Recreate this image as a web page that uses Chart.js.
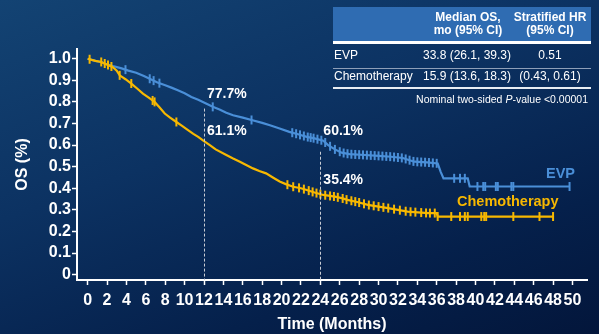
<!DOCTYPE html>
<html><head><meta charset="utf-8">
<script src="https://cdn.jsdelivr.net/npm/chart.js@4.4.1/dist/chart.umd.min.js"></script>
<style>
html,body{margin:0;padding:0;width:599px;height:334px;overflow:hidden;}
body{background:linear-gradient(160deg,#134373 0%,#0c3262 40%,#05204b 75%,#03163b 100%);font-family:"Liberation Sans",Arial,sans-serif;position:relative;color:#fff;}
#c{position:absolute;left:0;top:0;}
.ab{position:absolute;white-space:nowrap;}
.hd{font-weight:bold;font-size:12px;line-height:13.4px;text-align:center;}
.cell{font-size:12px;line-height:14px;}
</style></head>
<body>
<canvas id="c" width="599" height="334"></canvas>
<div class="ab" style="left:333px;top:7px;width:258px;height:34px;background:#2f6cb2;"></div>
<div class="ab" style="left:333px;top:41px;width:258px;height:3px;background:#fff;"></div>
<div class="ab" style="left:333px;top:68px;width:258px;height:1px;background:#8e9fb8;"></div>
<div class="ab" style="left:333px;top:87px;width:258px;height:2px;background:#e8edf3;"></div>
<div class="ab hd" style="left:418px;top:11px;width:100px;">Median OS,<br>mo (95% CI)</div>
<div class="ab hd" style="left:505px;top:11px;width:90px;">Stratified HR<br>(95% CI)</div>
<div class="ab cell" style="left:334px;top:48px;">EVP</div>
<div class="ab cell" style="left:417px;top:48px;width:100px;text-align:center;">33.8 (26.1, 39.3)</div>
<div class="ab cell" style="left:505px;top:48px;width:90px;text-align:center;">0.51</div>
<div class="ab cell" style="left:334px;top:69px;">Chemotherapy</div>
<div class="ab cell" style="left:417px;top:69px;width:100px;text-align:center;">15.9 (13.6, 18.3)</div>
<div class="ab cell" style="left:505px;top:69px;width:90px;text-align:center;">(0.43, 0.61)</div>
<div class="ab" style="right:11px;top:93px;font-size:10.5px;line-height:12px;">Nominal two-sided <i>P</i>-value &lt;0.00001</div>
<script>
// ---- data ----
const evpTime = [0,0.8,1.4,1.8,2.6,3.5,4.2,5.0,5.8,6.5,7.2,8.0,8.7,9.3,10.0,10.7,11.4,12.1,12.9,13.6,14.3,15.0,16.0,17.0,18.0,18.8,19.8,20.8,21.7,22.6,23.4,24.3,24.8,25.5,26.2,27.0,28.6,30.0,31.3,32.5,33.2,33.7,35.0,36.1,36.4,36.7,39.2,39.4,49.7];
const evpSurv = [1.0,0.99,0.985,0.977,0.966,0.955,0.945,0.935,0.92,0.905,0.89,0.877,0.865,0.854,0.84,0.823,0.81,0.795,0.777,0.765,0.75,0.738,0.727,0.715,0.703,0.692,0.677,0.661,0.65,0.638,0.631,0.62,0.60,0.58,0.565,0.558,0.554,0.55,0.546,0.54,0.53,0.523,0.52,0.515,0.477,0.446,0.446,0.408,0.408];
const chemoTime = [0,0.8,1.4,1.8,2.6,3.0,3.3,3.9,4.5,5.1,5.7,6.3,6.9,7.4,7.95,8.5,9.15,9.7,10.35,10.9,11.4,12.0,12.6,13.2,14.3,15.0,15.7,16.4,17.05,17.7,18.4,19.1,19.8,20.5,21.2,22.0,22.6,23.4,24.3,25.5,26.2,26.8,27.9,28.9,30.0,31.0,32.0,33.0,35.1,36.0,36.1,48.1];
const chemoSurv = [1.0,0.99,0.985,0.977,0.961,0.945,0.923,0.905,0.885,0.862,0.838,0.82,0.80,0.775,0.746,0.727,0.707,0.69,0.669,0.652,0.638,0.618,0.60,0.58,0.554,0.538,0.523,0.507,0.492,0.48,0.469,0.45,0.431,0.418,0.407,0.40,0.392,0.38,0.369,0.361,0.354,0.346,0.335,0.323,0.315,0.308,0.30,0.292,0.285,0.285,0.269,0.269];
const evpCensor = [3.9,6.4,6.8,7.4,12.9,16.9,21.1,21.5,21.9,22.3,22.7,23.0,23.3,23.7,24.1,24.5,25.0,25.5,26.0,26.4,26.8,27.2,27.6,28.0,28.4,28.8,29.2,29.6,30.0,30.4,30.8,31.2,31.6,32.0,32.4,32.8,33.2,33.6,34.0,34.4,34.8,35.2,35.6,36.0,37.8,38.4,38.9,40.2,40.8,41.0,42.1,42.3,43.7,43.9,49.7];
const chemoCensor = [0.2,1.4,1.76,2.1,2.45,3.3,4.5,6.7,6.9,9.15,20.6,21.2,21.8,22.3,22.8,23.2,23.6,24.0,24.5,25.0,25.4,25.8,26.3,26.7,27.2,27.6,28.0,28.5,29.0,29.5,30.0,30.5,31.0,31.6,32.2,32.8,33.3,33.8,34.4,34.9,35.3,35.8,36.1,37.5,38.4,38.9,39.2,40.6,40.9,41.1,43.9,46.6,48.0];
const xTickValues = [0,2,4,6,8,10,12,14,16,18,20,22,24,26,28,30,32,34,36,38,40,42,44,46,48,50];
const yTickValues = [0,0.1,0.2,0.3,0.4,0.5,0.6,0.7,0.8,0.9,1.0];
const yTickLabels = ['0','0.1','0.2','0.3','0.4','0.5','0.6','0.7','0.8','0.9','1.0'];
const landmarkMonths = [12,24];
const landmarkTop = [0.769,0.569];
const evpLandmarkLabels = ['77.7%','60.1%'];
const chemoLandmarkLabels = ['61.1%','35.4%'];
const seriesNames = ['EVP','Chemotherapy'];

// ---- helpers ----
const BLUE = '#4a8fd8', YELLOW = '#f7b800', FONT = '"Liberation Sans", Arial, sans-serif';
function pts(T,S){return T.map((t,i)=>({x:t,y:S[i]}));}
// place a censor mark on the drawn curve at time t
function onCurve(T,S,t){
  if(t<=T[0]) return S[0];
  for(let i=1;i<T.length;i++){
    if(t<=T[i]){const f=(t-T[i-1])/(T[i]-T[i-1]);return S[i-1]+f*(S[i]-S[i-1]);}
  }
  return S[S.length-1];
}
function censorPts(C,T,S){return C.map(t=>({x:t,y:onCurve(T,S,t)}));}

Chart.defaults.font.family = FONT;

const annot = {
  id:'annot',
  afterDatasetsDraw(chart){
    const {ctx, scales:{x,y}} = chart;
    ctx.save();
    ctx.strokeStyle = '#c8ccd4'; ctx.lineWidth = 1; ctx.setLineDash([3,2]);
    landmarkMonths.forEach((m,i)=>{
      const px = Math.round(x.getPixelForValue(m))+0.5;
      ctx.beginPath(); ctx.moveTo(px, y.getPixelForValue(landmarkTop[i])); ctx.lineTo(px, chart.chartArea.bottom); ctx.stroke();
    });
    ctx.setLineDash([]);
    ctx.fillStyle = '#fff'; ctx.font = 'bold 14px '+FONT; ctx.textBaseline='middle'; ctx.textAlign='left';
    const evpY = [94,131], chemoY = [131,180];
    landmarkMonths.forEach((m,i)=>{
      const px = x.getPixelForValue(m)+3;
      ctx.fillText(evpLandmarkLabels[i], px, evpY[i]);
      ctx.fillText(chemoLandmarkLabels[i], px, chemoY[i]);
    });
    ctx.font = 'bold 14.5px '+FONT;
    ctx.fillStyle = BLUE; ctx.textAlign='right';
    ctx.fillText(seriesNames[0], 575, 174);
    ctx.fillStyle = YELLOW; ctx.textAlign='left';
    ctx.fillText(seriesNames[1], 457, 202);
    ctx.restore();
  }
};

new Chart(document.getElementById('c'), {
  type:'line',
  data:{datasets:[
    {label:'EVP', data:pts(evpTime,evpSurv), borderColor:BLUE, borderWidth:2.2, pointRadius:0, fill:false, tension:0, order:3},
    {label:'EVP censored', data:censorPts(evpCensor,evpTime,evpSurv), showLine:false, pointStyle:'line', rotation:90, pointRadius:4.5, pointBorderWidth:2, borderColor:BLUE, pointBorderColor:BLUE, order:2},
    {label:'Chemotherapy', data:pts(chemoTime,chemoSurv), borderColor:YELLOW, borderWidth:2.2, pointRadius:0, fill:false, tension:0, order:1},
    {label:'Chemotherapy censored', data:censorPts(chemoCensor,chemoTime,chemoSurv), showLine:false, pointStyle:'line', rotation:90, pointRadius:4.5, pointBorderWidth:2, borderColor:YELLOW, pointBorderColor:YELLOW, order:0}
  ]},
  options:{
    responsive:false, animation:false, events:[],
    layout:{padding:{top:49,right:12,left:0,bottom:0}},
    plugins:{legend:{display:false},tooltip:{enabled:false}},
    scales:{
      x:{type:'linear', min:-1.1, max:51.5,
        afterBuildTicks:s=>{s.ticks = xTickValues.map(v=>({value:v}));},
        afterFit:s=>{s.height=54;},
        ticks:{color:'#fff', font:{size:16,weight:'bold'}, autoSkip:false, maxRotation:0, minRotation:0, padding:6, callback:v=>String(v)},
        grid:{drawOnChartArea:false, drawTicks:true, tickLength:5, tickColor:'#fff', tickWidth:1.5},
        border:{color:'#fff', width:2},
        title:{display:true, text:'Time (Months)', color:'#fff', font:{size:16,weight:'bold'}, padding:{top:0,bottom:0}}
      },
      y:{type:'linear', min:-0.025, max:1.045,
        afterBuildTicks:s=>{s.ticks = yTickValues.map(v=>({value:v}));},
        afterFit:s=>{s.width=77;},
        ticks:{color:'#fff', font:{size:16,weight:'bold'}, padding:1, callback:(v,i)=>yTickLabels[i]},
        grid:{drawOnChartArea:false, drawTicks:true, tickLength:5, tickColor:'#fff', tickWidth:1.5},
        border:{color:'#fff', width:2},
        title:{display:true, text:'OS (%)', color:'#fff', font:{size:16,weight:'bold'}, padding:{top:13,bottom:0}}
      }
    }
  },
  plugins:[annot]
});
</script>
</body></html>
